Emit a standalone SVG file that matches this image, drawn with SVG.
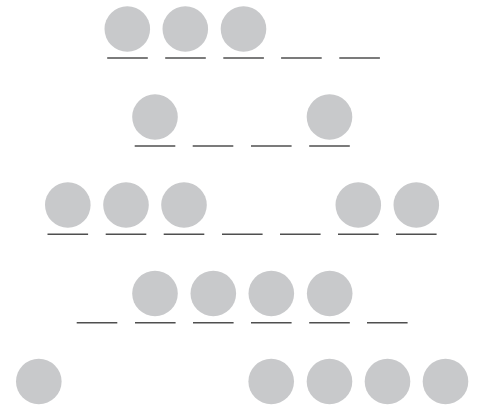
<svg xmlns="http://www.w3.org/2000/svg" width="478" height="408" viewBox="0 0 478 408">
<defs>
<style>
.c{fill:#c8c9cb}
.u{stroke:#4f4f4f;stroke-width:1.5;fill:none}
</style>
<circle id="dot" class="c" r="22.8"/>
<line id="ul" class="u" x1="-20.3" y1="0" x2="20.3" y2="0"/>
</defs>
<rect width="478" height="408" fill="#fff"/>
<g id="row1">
<use href="#dot" x="127.3" y="29"/><use href="#dot" x="185.3" y="29"/><use href="#dot" x="243.5" y="29"/>
<use href="#ul" x="127.5" y="58"/><use href="#ul" x="185.5" y="58"/><use href="#ul" x="243.6" y="58"/><use href="#ul" x="301.4" y="58"/><use href="#ul" x="359.6" y="58"/>
</g>
<g id="row2">
<use href="#dot" x="155" y="117"/><use href="#dot" x="329.5" y="117"/>
<use href="#ul" x="155" y="146"/><use href="#ul" x="213" y="146"/><use href="#ul" x="271.3" y="146"/><use href="#ul" x="329.5" y="146"/>
</g>
<g id="row3">
<use href="#dot" x="67.8" y="205"/><use href="#dot" x="126" y="205"/><use href="#dot" x="184" y="205"/><use href="#dot" x="358.3" y="205"/><use href="#dot" x="416.3" y="205"/>
<use href="#ul" x="67.8" y="234.3"/><use href="#ul" x="126" y="234.3"/><use href="#ul" x="184" y="234.3"/><use href="#ul" x="242.3" y="234.3"/><use href="#ul" x="300.3" y="234.3"/><use href="#ul" x="358.3" y="234.3"/><use href="#ul" x="416.3" y="234.3"/>
</g>
<g id="row4">
<use href="#dot" x="155" y="293.5"/><use href="#dot" x="213.3" y="293.5"/><use href="#dot" x="271.3" y="293.5"/><use href="#dot" x="329.7" y="293.5"/>
<use href="#ul" x="97" y="322.7"/><use href="#ul" x="155.3" y="322.7"/><use href="#ul" x="213.3" y="322.7"/><use href="#ul" x="271.3" y="322.7"/><use href="#ul" x="329.5" y="322.7"/><use href="#ul" x="387.3" y="322.7"/>
</g>
<g id="row5">
<use href="#dot" x="38.8" y="381.5"/><use href="#dot" x="271.2" y="381.5"/><use href="#dot" x="329.5" y="381.5"/><use href="#dot" x="387.5" y="381.5"/><use href="#dot" x="445.5" y="381.5"/>
</g>
</svg>
